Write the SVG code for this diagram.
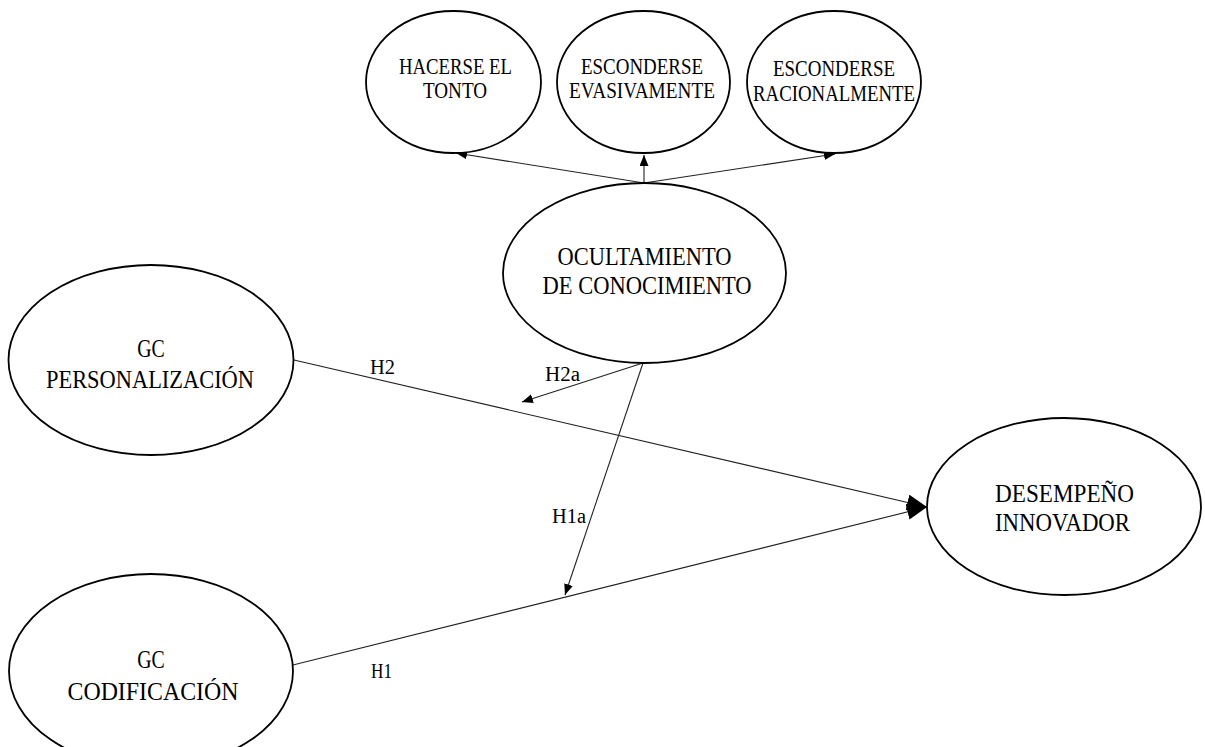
<svg xmlns="http://www.w3.org/2000/svg" width="1205" height="747" viewBox="0 0 1205 747">
<style>
.node ellipse{fill:#fff;stroke:#000;stroke-width:1.8}
.t{font-family:"Liberation Serif","Times New Roman",serif;fill:#000;text-anchor:middle}
.s{font-size:22.5px}
.m{font-size:25.5px}
.lbl{font-family:"Liberation Serif","Times New Roman",serif;fill:#000;font-size:20.5px}
.edge{stroke:#222;stroke-width:1.1;fill:none}
</style>
<defs>
<marker id="a" markerUnits="userSpaceOnUse" markerWidth="12" markerHeight="10" refX="11" refY="4.5" orient="auto"><path d="M0,0 L11,4.5 L0,9 z" fill="#000"/></marker>
<marker id="b" markerUnits="userSpaceOnUse" markerWidth="22" markerHeight="18" refX="20" refY="8" orient="auto"><path d="M0,0 L20,8 L0,16 z" fill="#000"/></marker>
</defs>
<rect width="1205" height="747" fill="#fff"/>
<g id="connectors">
<line class="edge" x1="644" y1="183" x2="456" y2="153" marker-end="url(#a)"/>
<line class="edge" x1="644" y1="183" x2="644" y2="155" marker-end="url(#a)"/>
<line class="edge" x1="644" y1="183" x2="835" y2="154" marker-end="url(#a)"/>
<line class="edge" x1="294" y1="360" x2="927" y2="507" marker-end="url(#b)"/>
<line class="edge" x1="293" y1="665" x2="927" y2="507" marker-end="url(#b)"/>
<line class="edge" x1="643" y1="363" x2="522" y2="402" marker-end="url(#a)"/>
<line class="edge" x1="643" y1="363" x2="565" y2="595" marker-end="url(#a)"/>
<text class="lbl" x="370" y="374" textLength="25" lengthAdjust="spacingAndGlyphs">H2</text>
<text class="lbl" x="371" y="678" textLength="21" lengthAdjust="spacingAndGlyphs">H1</text>
<text class="lbl" x="545" y="381" textLength="35" lengthAdjust="spacingAndGlyphs">H2a</text>
<text class="lbl" x="552" y="523" textLength="34" lengthAdjust="spacingAndGlyphs">H1a</text>
</g>
<g id="hacerse" class="node">
<ellipse cx="453.5" cy="82" rx="87.5" ry="71"/>
<text class="t s" x="455.5" y="74" textLength="113" lengthAdjust="spacingAndGlyphs">HACERSE EL</text>
<text class="t s" x="455" y="98" textLength="64" lengthAdjust="spacingAndGlyphs">TONTO</text>
</g>
<g id="evasivamente" class="node">
<ellipse cx="643.5" cy="82" rx="86.5" ry="71"/>
<text class="t s" x="642" y="74" textLength="122" lengthAdjust="spacingAndGlyphs">ESCONDERSE</text>
<text class="t s" x="642" y="98" textLength="146" lengthAdjust="spacingAndGlyphs">EVASIVAMENTE</text>
</g>
<g id="racionalmente" class="node">
<ellipse cx="834" cy="82" rx="87" ry="71"/>
<text class="t s" x="834" y="76" textLength="122" lengthAdjust="spacingAndGlyphs">ESCONDERSE</text>
<text class="t s" x="834" y="101" textLength="162" lengthAdjust="spacingAndGlyphs">RACIONALMENTE</text>
</g>
<g id="ocultamiento" class="node">
<ellipse cx="644.5" cy="273" rx="141.5" ry="90"/>
<text class="t m" x="644.5" y="265" textLength="174" lengthAdjust="spacingAndGlyphs">OCULTAMIENTO</text>
<text class="t m" x="647" y="294" textLength="209" lengthAdjust="spacingAndGlyphs">DE CONOCIMIENTO</text>
</g>
<g id="personalizacion" class="node">
<ellipse cx="151" cy="360" rx="142.5" ry="95"/>
<text class="t m" x="151" y="357" textLength="27.5" lengthAdjust="spacingAndGlyphs">GC</text>
<text class="t m" x="150" y="388" textLength="208" lengthAdjust="spacingAndGlyphs">PERSONALIZACIÓN</text>
</g>
<g id="codificacion" class="node">
<ellipse cx="151" cy="671" rx="142" ry="97"/>
<text class="t m" x="151" y="668" textLength="27.5" lengthAdjust="spacingAndGlyphs">GC</text>
<text class="t m" x="153" y="700" textLength="171" lengthAdjust="spacingAndGlyphs">CODIFICACIÓN</text>
</g>
<g id="desempeno" class="node">
<ellipse cx="1064" cy="506.5" rx="137" ry="88.5"/>
<text class="t m" x="1064.5" y="502" textLength="139" lengthAdjust="spacingAndGlyphs">DESEMPEÑO</text>
<text class="t m" x="1062.5" y="531" textLength="135" lengthAdjust="spacingAndGlyphs">INNOVADOR</text>
</g>
</svg>
